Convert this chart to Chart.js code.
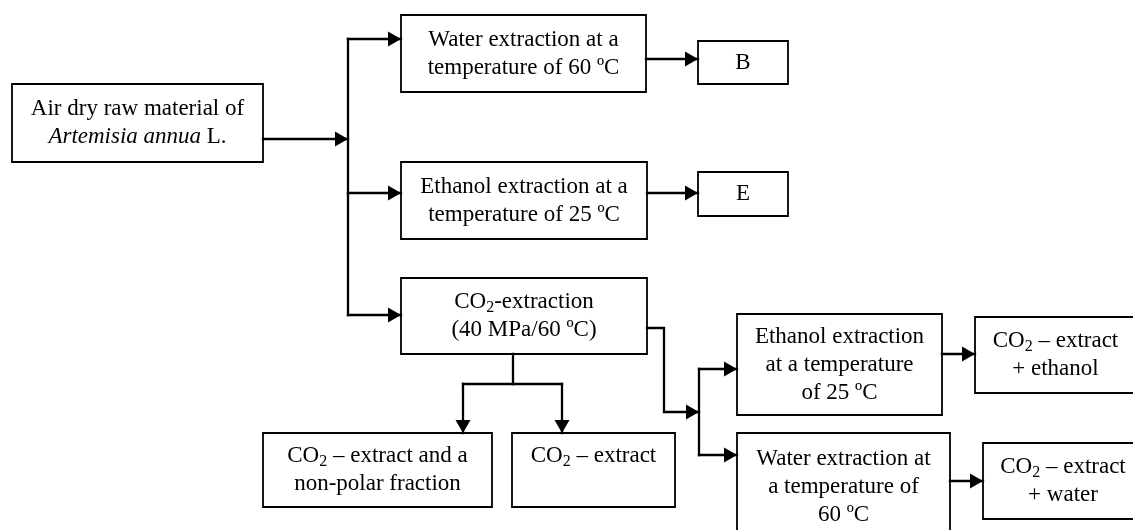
<!DOCTYPE html>
<html>
<head>
<meta charset="utf-8">
<script src="https://cdn.jsdelivr.net/npm/chart.js@4/dist/chart.umd.min.js"></script>
<style>
    html, body { margin: 0; padding: 0; background: #fff; }
    #wrap { width: 1133px; height: 530px; position: relative; }
</style>
</head>
<body>
<div id="wrap"><canvas id="flow"></canvas></div>
<script>
// box texts, one entry per line; *..* = italic, ~..~ = subscript
const boxLabels = [
    ['Air dry raw material of', '*Artemisia annua* L.'],
    ['Water extraction at a', 'temperature of 60 ºC'],
    ['B'],
    ['Ethanol extraction at a', 'temperature of 25 ºC'],
    ['E'],
    ['CO~2~-extraction', '(40 MPa/60 ºC)'],
    ['CO~2~ – extract and a', 'non-polar fraction'],
    ['CO~2~ – extract', ''],
    ['Ethanol extraction', 'at a temperature', 'of 25 ºC'],
    ['CO~2~ – extract', '+ ethanol'],
    ['Water extraction at', 'a temperature of', '60 ºC'],
    ['CO~2~ – extract', '+ water']
];

// [left, top, right, bottom] in diagram units
const boxRects = [
    [12, 84, 263, 162],
    [401, 15, 646, 92],
    [698, 41, 788, 84],
    [401, 162, 647, 239],
    [698, 172, 788, 216],
    [401, 278, 647, 354],
    [263, 433, 492, 507],
    [512, 433, 675, 507],
    [737, 314, 942, 415],
    [975, 317, 1136, 393],
    [737, 433, 950, 541],
    [983, 443, 1143, 519]
];

// connector polylines
const links = [
    [[263, 139], [348, 139]],
    [[348, 39], [348, 315]],
    [[348, 39], [401, 39]],
    [[348, 193], [401, 193]],
    [[348, 315], [401, 315]],
    [[646, 59], [698, 59]],
    [[647, 193], [698, 193]],
    [[513, 354], [513, 384]],
    [[463, 384], [562, 384]],
    [[463, 384], [463, 433]],
    [[562, 384], [562, 433]],
    [[647, 328], [664, 328], [664, 412], [699, 412]],
    [[699, 369], [699, 455]],
    [[699, 369], [737, 369]],
    [[699, 455], [737, 455]],
    [[942, 354], [975, 354]],
    [[950, 481], [983, 481]]
];
const linkArrow = [true, false, true, true, true, true, true, false, false, true, true, true, false, true, true, true, true];

const FONT = "'Liberation Serif', 'Times New Roman', serif";
const FONT_SIZE = 23;
const LINE_H = 28;

const datasets = [];
boxRects.forEach((r) => {
    datasets.push({
        data: [
            { x: r[0], y: r[1] }, { x: r[2], y: r[1] },
            { x: r[2], y: r[3] }, { x: r[0], y: r[3] }, { x: r[0], y: r[1] }
        ],
        showLine: true,
        borderColor: '#000',
        borderWidth: 1.8,
        borderJoinStyle: 'miter',
        borderCapStyle: 'square',
        pointRadius: 0,
        clip: false,
        kind: 'box'
    });
});
links.forEach((pts, i) => {
    datasets.push({
        data: pts.map(p => ({ x: p[0], y: p[1] })),
        showLine: true,
        borderColor: '#000',
        borderWidth: 2.3,
        borderJoinStyle: 'miter',
        borderCapStyle: 'square',
        pointRadius: 0,
        clip: false,
        kind: 'link',
        arrow: linkArrow[i]
    });
});

function parseLine(line) {
    return line.split(/(\*[^*]+\*|~[^~]+~)/).filter(s => s.length).map(s => {
        if (s[0] === '*') return { text: s.slice(1, -1), italic: true };
        if (s[0] === '~') return { text: s.slice(1, -1), sub: true };
        return { text: s };
    });
}

function segFont(seg) {
    const size = seg.sub ? Math.round(FONT_SIZE * 0.68) : FONT_SIZE;
    return (seg.italic ? 'italic ' : '') + size + 'px ' + FONT;
}

const flowPlugin = {
    id: 'flowPlugin',
    afterDatasetsDraw(chart) {
        const ctx = chart.ctx;
        const xs = chart.scales.x;
        const ys = chart.scales.y;
        ctx.save();
        ctx.fillStyle = '#000';

        // arrow heads at the end of each connector
        chart.data.datasets.forEach(ds => {
            if (!ds.arrow) return;
            const n = ds.data.length;
            const a = ds.data[n - 2];
            const b = ds.data[n - 1];
            const x1 = xs.getPixelForValue(a.x), y1 = ys.getPixelForValue(a.y);
            const x2 = xs.getPixelForValue(b.x), y2 = ys.getPixelForValue(b.y);
            const ang = Math.atan2(y2 - y1, x2 - x1);
            const len = 13, half = 7.5;
            ctx.beginPath();
            ctx.moveTo(x2, y2);
            ctx.lineTo(x2 - len * Math.cos(ang) + half * Math.sin(ang), y2 - len * Math.sin(ang) - half * Math.cos(ang));
            ctx.lineTo(x2 - len * Math.cos(ang) - half * Math.sin(ang), y2 - len * Math.sin(ang) + half * Math.cos(ang));
            ctx.closePath();
            ctx.fill();
        });

        // box texts
        ctx.textBaseline = 'middle';
        ctx.textAlign = 'left';
        boxLabels.forEach((lines, i) => {
            const r = boxRects[i];
            const cx = (xs.getPixelForValue(r[0]) + xs.getPixelForValue(r[2])) / 2;
            const cy = (ys.getPixelForValue(r[1]) + ys.getPixelForValue(r[3])) / 2;
            const top = cy - (lines.length - 1) * LINE_H / 2;
            lines.forEach((line, j) => {
                const segs = parseLine(line);
                let w = 0;
                segs.forEach(s => {
                    ctx.font = segFont(s);
                    s.w = ctx.measureText(s.text).width;
                    w += s.w;
                });
                let x = cx - w / 2;
                const y = top + j * LINE_H;
                segs.forEach(s => {
                    ctx.font = segFont(s);
                    ctx.fillText(s.text, x, s.sub ? y + 6 : y);
                    x += s.w;
                });
            });
        });
        ctx.restore();
    }
};

new Chart(document.getElementById('flow'), {
    type: 'scatter',
    data: { datasets },
    options: {
        responsive: true,
        maintainAspectRatio: false,
        animation: false,
        layout: { padding: 0 },
        plugins: {
            legend: { display: false },
            tooltip: { enabled: false }
        },
        scales: {
            x: { type: 'linear', min: 0, max: 1133, display: false },
            y: { type: 'linear', min: 0, max: 530, reverse: true, display: false }
        }
    },
    plugins: [flowPlugin]
});
</script>
</body>
</html>
